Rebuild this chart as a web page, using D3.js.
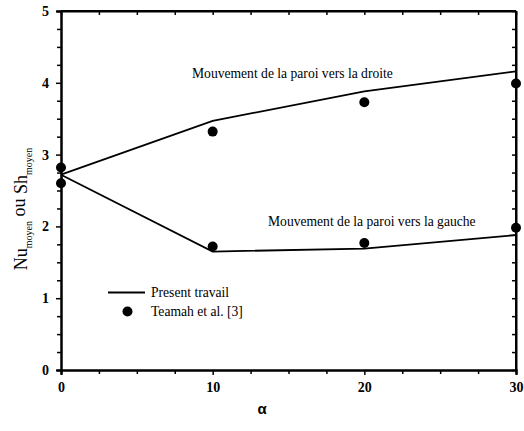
<!DOCTYPE html>
<html><head><meta charset="utf-8">
<script src="https://cdn.jsdelivr.net/npm/d3@7"></script>
<style>
body{margin:0;background:#fff}
</style>
</head><body>
<svg id="c" width="524" height="431"></svg>
<script>
const alphas = [0, 10, 20, 30];
const lineRight = [2.72, 3.47, 3.88, 4.16];
const lineLeft = [2.72, 1.65, 1.69, 1.88];
const ptsRight = [2.82, 3.32, 3.73, 3.99];
const ptsLeft = [2.60, 1.72, 1.77, 1.98];
const xTicks = [0, 10, 20, 30];
const yTicks = [0, 1, 2, 3, 4, 5];

const SERIF = "'Liberation Serif'";
const SANS = "'Liberation Sans'";
const svg = d3.select("#c");
const L = 61, R = 516, T = 11, B = 370;
const x = d3.scaleLinear().domain([0, 30]).range([L, R]);
const y = d3.scaleLinear().domain([0, 5]).range([B, T]);

const minorX = d3.range(0, 30.01, 2.5).filter(v => v % 10 !== 0);
const minorY = d3.range(0, 5.01, 0.25).filter(v => Math.abs(v - Math.round(v)) > 1e-6);

function styleAxis(g) {
  g.attr("font-family", SERIF);
  g.selectAll("path.domain").attr("stroke", "#000").attr("stroke-width", 2);
  g.selectAll(".tick line").attr("stroke", "#000").attr("stroke-width", 1.5);
  g.selectAll("text").attr("font-family", SERIF).attr("font-weight", "bold").attr("font-size", 14).attr("fill", "#000");
}
svg.append("g").attr("transform", `translate(0,${B})`)
  .call(d3.axisBottom(x).tickValues(xTicks).tickFormat(d3.format("d")).tickSize(5).tickPadding(7)).call(styleAxis);
svg.append("g").attr("transform", `translate(0,${B})`)
  .call(d3.axisBottom(x).tickValues(minorX).tickFormat("").tickSize(4)).call(styleAxis);
svg.append("g").attr("transform", `translate(${L},0)`)
  .call(d3.axisLeft(y).tickValues(yTicks).tickFormat(d3.format("d")).tickSize(5).tickPadding(7)).call(styleAxis);
svg.append("g").attr("transform", `translate(${L},0)`)
  .call(d3.axisLeft(y).tickValues(minorY).tickFormat("").tickSize(4)).call(styleAxis);
svg.append("g").attr("transform", `translate(0,${T})`)
  .call(d3.axisBottom(x).tickValues(xTicks.concat(minorX)).tickFormat("").tickSize(4).tickSizeOuter(0)).call(styleAxis);
svg.append("g").attr("transform", `translate(${R},0)`)
  .call(d3.axisRight(y).tickValues(yTicks.concat(minorY)).tickFormat("").tickSize(-4).tickSizeOuter(0)).call(styleAxis);
svg.append("line").attr("x1", L).attr("x2", R).attr("y1", T).attr("y2", T).attr("stroke", "#000").attr("stroke-width", 2);
svg.append("line").attr("x1", R).attr("x2", R).attr("y1", T).attr("y2", B).attr("stroke", "#000").attr("stroke-width", 2);

// lines
const line = d3.line().x((d, i) => x(alphas[i])).y(d => y(d));
[lineRight, lineLeft].forEach(s => {
  svg.append("path").datum(s).attr("d", line).attr("fill", "none").attr("stroke", "#000").attr("stroke-width", 1.8);
});
// points
[ptsRight, ptsLeft].forEach(s => {
  svg.selectAll(null).data(s).enter().append("circle")
    .attr("cx", (d, i) => x(alphas[i])).attr("cy", d => y(d)).attr("r", 5).attr("fill", "#000");
});

// annotations
svg.append("text").attr("font-family", SERIF).attr("x", 192).attr("y", 78).attr("font-size", 13.6).text("Mouvement de la paroi vers la droite");
svg.append("text").attr("font-family", SERIF).attr("x", 268).attr("y", 226).attr("font-size", 13.6).text("Mouvement de la paroi vers la gauche");

// legend
svg.append("line").attr("x1", 108).attr("x2", 145).attr("y1", 292.5).attr("y2", 292.5).attr("stroke", "#000").attr("stroke-width", 1.8);
svg.append("text").attr("font-family", SERIF).attr("x", 151).attr("y", 297).attr("font-size", 13.6).text("Present travail");
svg.append("circle").attr("cx", 127.5).attr("cy", 311.5).attr("r", 5).attr("fill", "#000");
svg.append("text").attr("font-family", SERIF).attr("x", 151).attr("y", 316).attr("font-size", 13.6).text("Teamah et al. [3]");

// axis titles
svg.append("text").attr("font-family", SANS).attr("x", 262).attr("y", 414).attr("text-anchor", "middle")
  .attr("font-weight", "bold").attr("font-size", 15).text("α");
const yt = svg.append("text").attr("font-family", SERIF).attr("transform", `translate(27,209) rotate(-90)`)
  .attr("text-anchor", "middle").attr("font-size", 18);
yt.append("tspan").text("Nu");
yt.append("tspan").attr("font-size", 10).attr("dy", 5).text("moyen");
yt.append("tspan").attr("dy", -7).text(" ou ");
yt.append("tspan").attr("dy", 2).text("Sh");
yt.append("tspan").attr("font-size", 10).attr("dy", 5).text("moyen");
</script>
</body></html>
